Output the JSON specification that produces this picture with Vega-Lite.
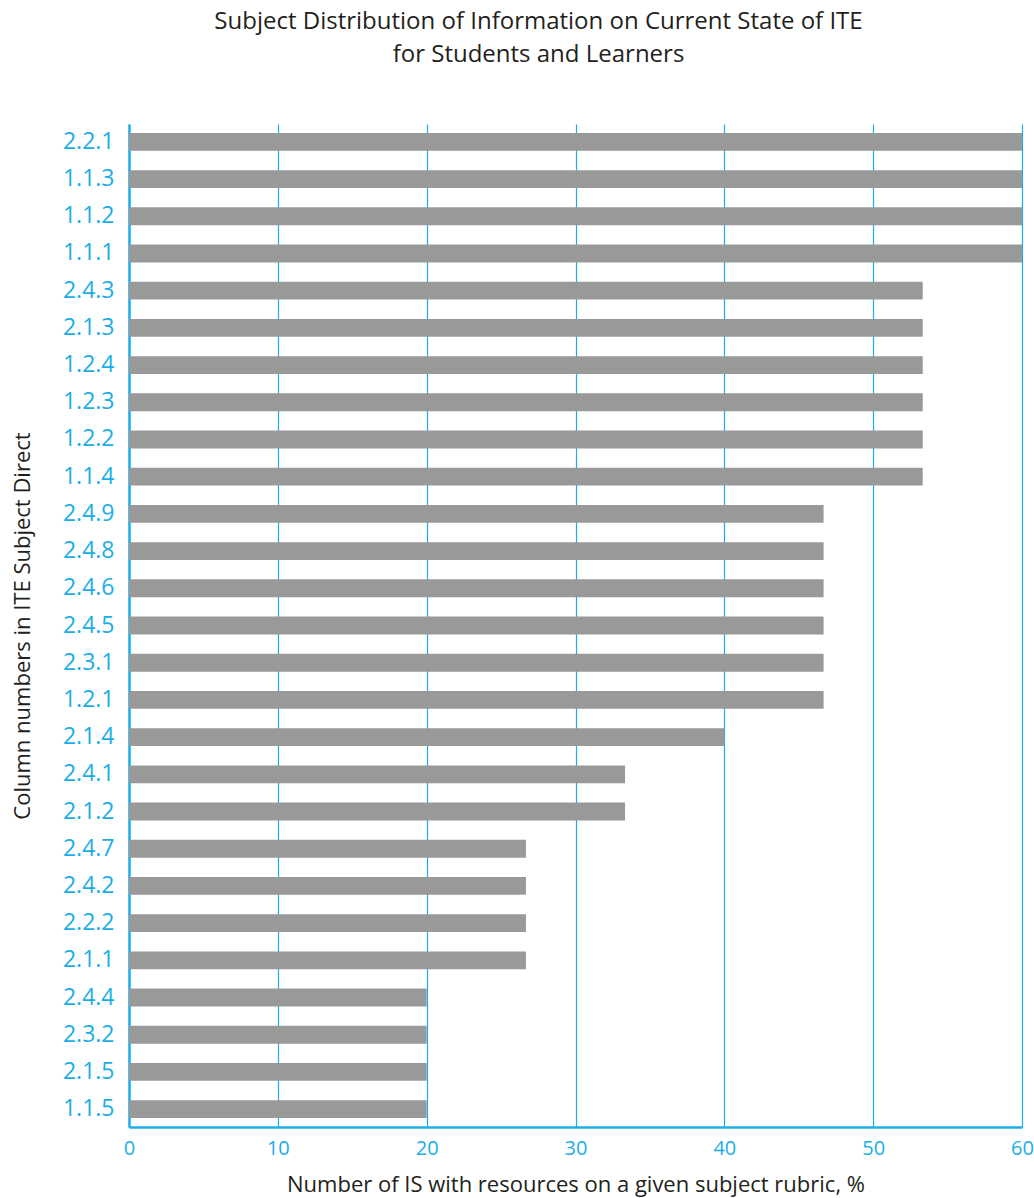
{
  "$schema": "https://vega.github.io/schema/vega-lite/v6.json",
  "autosize": "none",
  "width": 893,
  "height": 1003,
  "padding": {"left": 129, "top": 124, "right": 12, "bottom": 71},
  "background": "white",
  "title": {
    "text": ["Subject Distribution of Information on Current State of ITE", "for Students and Learners"],
    "font": "Open Sans",
    "fontSize": 24,
    "fontWeight": "normal",
    "color": "#231f20",
    "lineHeight": 33,
    "anchor": "middle",
    "dx": -37,
    "offset": 57
  },
  "data": {
    "values": [
      {"code": "2.2.1", "value": 60},
      {"code": "1.1.3", "value": 60},
      {"code": "1.1.2", "value": 60},
      {"code": "1.1.1", "value": 60},
      {"code": "2.4.3", "value": 53.33},
      {"code": "2.1.3", "value": 53.33},
      {"code": "1.2.4", "value": 53.33},
      {"code": "1.2.3", "value": 53.33},
      {"code": "1.2.2", "value": 53.33},
      {"code": "1.1.4", "value": 53.33},
      {"code": "2.4.9", "value": 46.67},
      {"code": "2.4.8", "value": 46.67},
      {"code": "2.4.6", "value": 46.67},
      {"code": "2.4.5", "value": 46.67},
      {"code": "2.3.1", "value": 46.67},
      {"code": "1.2.1", "value": 46.67},
      {"code": "2.1.4", "value": 40},
      {"code": "2.4.1", "value": 33.33},
      {"code": "2.1.2", "value": 33.33},
      {"code": "2.4.7", "value": 26.67},
      {"code": "2.4.2", "value": 26.67},
      {"code": "2.2.2", "value": 26.67},
      {"code": "2.1.1", "value": 26.67},
      {"code": "2.4.4", "value": 20},
      {"code": "2.3.2", "value": 20},
      {"code": "2.1.5", "value": 20},
      {"code": "1.1.5", "value": 20}
    ]
  },
  "mark": {"type": "bar", "color": "#999999"},
  "encoding": {
    "y": {
      "field": "code",
      "type": "nominal",
      "sort": null,
      "scale": {"paddingInner": 0.52, "paddingOuter": 0.24},
      "axis": {
        "title": "Column numbers in ITE Subject Direct",
        "titleFont": "Open Sans",
        "titleFontSize": 22,
        "titleFontWeight": "normal",
        "titleColor": "#231f20",
        "titlePadding": 28,
        "labelFont": "Open Sans",
        "labelFontSize": 23,
        "labelColor": "#1aaee8",
        "labelPadding": 15,
        "ticks": false,
        "domainColor": "#1aaee8",
        "domainWidth": 2.5,
        "grid": false
      }
    },
    "x": {
      "field": "value",
      "type": "quantitative",
      "scale": {"domain": [0, 60], "nice": false},
      "axis": {
        "title": "Number of IS with resources on a given subject rubric, %",
        "titleFont": "Open Sans",
        "titleFontSize": 22,
        "titleFontWeight": "normal",
        "titleColor": "#231f20",
        "titlePadding": 16,
        "values": [0, 10, 20, 30, 40, 50, 60],
        "labelFont": "Open Sans",
        "labelFontSize": 20,
        "labelColor": "#1aaee8",
        "labelPadding": 11,
        "labelFlush": false,
        "ticks": false,
        "domainColor": "#1aaee8",
        "domainWidth": 2.5,
        "grid": true,
        "gridColor": "#1aaee8",
        "gridWidth": 1.2,
        "gridOpacity": 1
      }
    }
  },
  "config": {"view": {"stroke": null}}
}
